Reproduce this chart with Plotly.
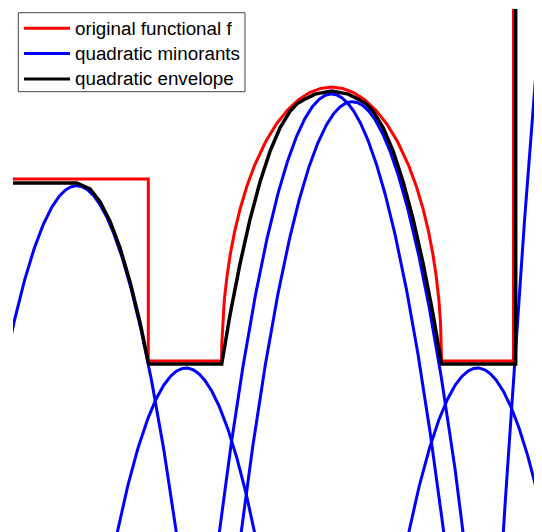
import numpy as np
import plotly.graph_objects as go

# ---- data (chart units) ----
# original functional f
f_x = [0.0, 1.353, 1.353, 2.086, 2.088, 2.097, 2.113, 2.141, 2.174, 2.218, 2.273, 2.339,
       2.416, 2.526, 2.636, 2.746, 2.856, 2.966, 3.076, 3.186, 3.296, 3.406, 3.516,
       3.626, 3.736, 3.846, 3.956, 4.033, 4.099, 4.154, 4.198, 4.231, 4.259, 4.275,
       4.284, 4.286, 5.005, 5.005]
f_y = [3.53, 3.53, 1.71, 1.71, 1.883, 2.096, 2.319, 2.565, 2.784, 3.011, 3.238, 3.458,
       3.667, 3.902, 4.083, 4.221, 4.324, 4.395, 4.436, 4.45, 4.436, 4.395, 4.324,
       4.221, 4.083, 3.902, 3.667, 3.458, 3.238, 3.011, 2.784, 2.565, 2.319, 2.096,
       1.883, 1.71, 1.71, 6.0]

# quadratic envelope
env_x = [0.0, 0.637, 0.77, 0.87, 0.97, 1.07, 1.17, 1.27, 1.357, 2.087, 2.17, 2.27, 2.37,
         2.47, 2.57, 2.67, 2.77, 2.84, 2.92, 3.02, 3.186, 3.352, 3.452, 3.532, 3.602,
         3.702, 3.802, 3.902, 4.002, 4.102, 4.202, 4.285, 5.027, 5.027]
env_y = [3.49, 3.49, 3.43, 3.304, 3.107, 2.841, 2.504, 2.096, 1.68, 1.68, 2.17, 2.682,
         3.127, 3.5, 3.806, 4.041, 4.207, 4.282, 4.329, 4.379, 4.41, 4.379, 4.329,
         4.282, 4.207, 4.041, 3.806, 3.5, 3.127, 2.682, 2.17, 1.68, 1.68, 6.0]

# quadratic minorants: vertex positions and common curvature
minor_vx = [0.637, 1.73, 3.185, 3.393, 4.645, 7.115]
minor_vy = [3.463, 1.64, 4.38, 4.303, 1.64, 17.03]
curvature = 3.48

x_range = [0.0, 5.29]
y_range = [0.0, 5.23]

labels = ["original functional f", "quadratic minorants", "quadratic envelope"]
colors = ["#ff0000", "#0000ff", "#000000"]

fig = go.Figure()

fig.add_trace(go.Scatter(x=f_x, y=f_y, mode="lines", name=labels[0],
                         line=dict(color=colors[0], width=3)))

xs = np.linspace(-0.1, 5.4, 800)
for i, (vx, vy) in enumerate(zip(minor_vx, minor_vy)):
    ys = vy - curvature * (xs - vx) ** 2
    fig.add_trace(go.Scatter(x=xs, y=ys, mode="lines", name=labels[1],
                             legendgroup="minor", showlegend=False,
                             line=dict(color=colors[1], width=3)))

fig.add_trace(go.Scatter(x=env_x, y=env_y, mode="lines", name=labels[2],
                         line=dict(color=colors[2], width=3.5)))

# ---- legend box drawn in paper coordinates ----
shapes = [dict(type="rect", xref="paper", yref="paper",
               x0=0.0100, x1=0.4386, y0=0.8419, y1=0.9929,
               line=dict(color="#444444", width=1), fillcolor="white", layer="above")]
annotations = []
row_y = [0.9631, 0.9149, 0.8662]
for lab, col, yy in zip(labels, colors, row_y):
    shapes.append(dict(type="line", xref="paper", yref="paper",
                       x0=0.0208, x1=0.1078, y0=yy, y1=yy,
                       line=dict(color=col, width=3), layer="above"))
    annotations.append(dict(xref="paper", yref="paper", x=0.1153, y=yy,
                            xanchor="left", yanchor="middle", showarrow=False,
                            text=lab, borderpad=0,
                            font=dict(family="Liberation Sans, Arial, sans-serif",
                                      size=18.8, color="black")))

fig.update_layout(
    width=534, height=524, autosize=False,
    margin=dict(l=5, r=0, t=1, b=0),
    paper_bgcolor="white", plot_bgcolor="white",
    xaxis=dict(visible=False, range=x_range, fixedrange=True),
    yaxis=dict(visible=False, range=y_range, fixedrange=True),
    showlegend=False,
    shapes=shapes,
    annotations=annotations,
)

fig.write_html("out.html")
